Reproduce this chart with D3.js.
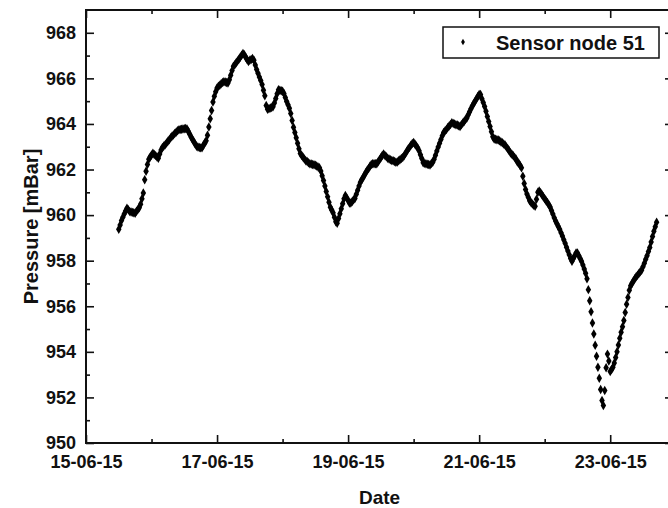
<!DOCTYPE html>
<html>
<head>
<meta charset="utf-8">
<script src="https://cdn.jsdelivr.net/npm/d3@7"></script>
<style>
  body { margin: 0; background: #fff; }
  text { font-family: "Liberation Sans", Arial, sans-serif; font-weight: bold; fill: #111; }
</style>
</head>
<body>
<svg id="chart" width="668" height="508"></svg>
<script>
// pressure readings, one every 30 minutes, starting 15-06-15 12:00
const day15 = [959.38, 959.57, 959.76, 959.91, 960.05, 960.18, 960.30, 960.23, 960.16, 960.14, 960.12, 960.10,
  960.08, 960.17, 960.25, 960.32, 960.48, 960.72, 960.97, 961.55, 961.92, 962.22, 962.45, 962.55];
const day16 = [962.64, 962.71, 962.66, 962.61, 962.55, 962.50, 962.68, 962.86, 962.97, 963.03,
  963.09, 963.16, 963.24, 963.31, 963.39, 963.46, 963.52, 963.58, 963.64, 963.70,
  963.74, 963.76, 963.77, 963.78, 963.79, 963.80, 963.78, 963.67, 963.55, 963.43,
  963.32, 963.22, 963.12, 963.02, 962.99, 962.97, 962.95, 962.96, 963.06, 963.16,
  963.26, 963.50, 963.87, 964.23, 964.59, 964.96, 965.21, 965.41];
const day17 = [965.58, 965.65, 965.70, 965.76, 965.82, 965.85, 965.84, 965.82, 965.80, 965.94,
  966.14, 966.34, 966.53, 966.60, 966.69, 966.76, 966.84, 966.93, 967.01, 967.09,
  967.04, 966.93, 966.83, 966.74, 966.79, 966.83, 966.87, 966.80, 966.59, 966.39,
  966.22, 966.06, 965.91, 965.73, 965.48, 965.24, 964.81, 964.64, 964.67, 964.70,
  964.72, 964.75, 964.92, 965.12, 965.32, 965.50, 965.48, 965.46];
const day18 = [965.43, 965.34, 965.16, 964.99, 964.84, 964.69, 964.46, 964.15, 963.85, 963.62,
  963.39, 963.15, 962.91, 962.70, 962.62, 962.54, 962.46, 962.39, 962.35, 962.30,
  962.25, 962.24, 962.22, 962.21, 962.19, 962.15, 962.11, 962.08, 961.94, 961.73,
  961.52, 961.28, 961.04, 960.80, 960.56, 960.34, 960.22, 960.10, 959.91, 959.71,
  959.64, 959.85, 960.06, 960.28, 960.50, 960.72, 960.86, 960.75];
const day19 = [960.65, 960.53, 960.53, 960.60, 960.67, 960.73, 960.91, 961.09, 961.28, 961.44,
  961.55, 961.65, 961.76, 961.87, 961.97, 962.05, 962.14, 962.22, 962.25, 962.25,
  962.25, 962.25, 962.34, 962.43, 962.52, 962.62, 962.68, 962.62, 962.56, 962.50,
  962.46, 962.43, 962.40, 962.38, 962.35, 962.32, 962.33, 962.38, 962.43, 962.48,
  962.53, 962.60, 962.70, 962.80, 962.90, 962.98, 963.06, 963.14];
const day20 = [963.19, 963.11, 963.03, 962.95, 962.82, 962.65, 962.48, 962.30, 962.27, 962.25,
  962.23, 962.22, 962.20, 962.26, 962.32, 962.45, 962.63, 962.81, 962.99, 963.15,
  963.32, 963.48, 963.62, 963.69, 963.76, 963.84, 963.91, 963.98, 964.05, 964.02,
  964.00, 963.97, 963.95, 963.92, 963.89, 963.96, 964.04, 964.11, 964.19, 964.26,
  964.40, 964.54, 964.67, 964.79, 964.90, 965.00, 965.10, 965.20];
const day21 = [965.29, 965.29, 965.11, 964.94, 964.77, 964.56, 964.33, 964.11, 963.89, 963.66,
  963.44, 963.34, 963.33, 963.31, 963.30, 963.26, 963.21, 963.17, 963.12, 963.08,
  962.99, 962.91, 962.82, 962.73, 962.67, 962.60, 962.53, 962.46, 962.33, 962.28,
  962.18, 962.08, 961.71, 961.39, 961.12, 960.93, 960.78, 960.63, 960.55, 960.49,
  960.43, 960.39, 960.70, 961.00, 961.06, 960.98, 960.89, 960.81];
const day22 = [960.72, 960.63, 960.55, 960.45, 960.36, 960.20, 960.05, 959.88, 959.74, 959.62,
  959.50, 959.38, 959.23, 959.08, 958.92, 958.76, 958.59, 958.43, 958.26, 958.10,
  957.98, 958.10, 958.22, 958.34, 958.34, 958.22, 958.10, 957.98, 957.81, 957.63,
  957.45, 957.21, 956.73, 956.24, 955.76, 955.27, 954.78, 954.29, 953.81, 953.32,
  952.84, 952.35, 951.86, 951.65, 952.30, 953.30, 953.90, 953.60];
const day23 = [953.14, 953.23, 953.32, 953.51, 953.75, 954.00, 954.30, 954.60, 954.86, 955.10,
  955.38, 955.73, 956.09, 956.39, 956.70, 956.90, 957.01, 957.11, 957.21, 957.29,
  957.36, 957.44, 957.51, 957.58, 957.73, 957.89, 958.06, 958.22, 958.40, 958.58,
  958.82, 959.06, 959.29, 959.49, 959.69];

const seriesName = 'Sensor node 51';
const startTime = '2015-06-15 12:00';
const stepMinutes = 30;

const xMajorTicks = ['2015-06-15 00:00', '2015-06-17 00:00', '2015-06-19 00:00', '2015-06-21 00:00', '2015-06-23 00:00'];
const xMinorTicks = ['2015-06-16 00:00', '2015-06-18 00:00', '2015-06-20 00:00', '2015-06-22 00:00'];
const yMajorTicks = [950, 952, 954, 956, 958, 960, 962, 964, 966, 968];
const yMinorTicks = [951, 953, 955, 957, 959, 961, 963, 965, 967];

const parse = d3.utcParse('%Y-%m-%d %H:%M');
const fmt = d3.utcFormat('%d-%m-%y');

let values = [].concat(day15, day16, day17, day18, day19, day20, day21, day22, day23);
let t0 = parse(startTime);
let series = values.map((v, i) => ({ t: d3.utcMinute.offset(t0, i * stepMinutes), v: v }));

let plotLeft = 86, plotRight = 673, plotTop = 10, plotBottom = 443;

let x = d3.scaleUtc()
  .domain([parse('2015-06-15 00:00'), parse('2015-06-23 23:00')])
  .range([plotLeft, plotRight]);
let y = d3.scaleLinear()
  .domain([950, 969])
  .range([plotBottom, plotTop]);

let svg = d3.select('#chart');

function styleAxis(g) {
  g.attr('font-family', null).attr('font-size', null);
  g.select('.domain').remove();
  g.selectAll('line').attr('stroke', '#111').attr('stroke-width', 1.6);
  g.selectAll('text').style('font-size', '18px');
}

// bottom
svg.append('g').attr('transform', `translate(0,${plotBottom})`)
  .call(d3.axisBottom(x).tickValues(xMajorTicks.map(parse)).tickSize(-8).tickPadding(12).tickFormat(fmt))
  .call(styleAxis);
svg.append('g').attr('transform', `translate(0,${plotBottom})`)
  .call(d3.axisBottom(x).tickValues(xMinorTicks.map(parse)).tickSize(-4).tickFormat(''))
  .call(styleAxis);
// top
svg.append('g').attr('transform', `translate(0,${plotTop})`)
  .call(d3.axisTop(x).tickValues(xMajorTicks.map(parse)).tickSize(-8).tickFormat(''))
  .call(styleAxis);
svg.append('g').attr('transform', `translate(0,${plotTop})`)
  .call(d3.axisTop(x).tickValues(xMinorTicks.map(parse)).tickSize(-4).tickFormat(''))
  .call(styleAxis);
// left
svg.append('g').attr('transform', `translate(${plotLeft},0)`)
  .call(d3.axisLeft(y).tickValues(yMajorTicks).tickSize(-8).tickPadding(10).tickFormat(d3.format('d')))
  .call(styleAxis);
svg.append('g').attr('transform', `translate(${plotLeft},0)`)
  .call(d3.axisLeft(y).tickValues(yMinorTicks).tickSize(-4).tickFormat(''))
  .call(styleAxis);
// right
svg.append('g').attr('transform', `translate(${plotRight},0)`)
  .call(d3.axisRight(y).tickValues(yMajorTicks).tickSize(-8).tickFormat(''))
  .call(styleAxis);
svg.append('g').attr('transform', `translate(${plotRight},0)`)
  .call(d3.axisRight(y).tickValues(yMinorTicks).tickSize(-4).tickFormat(''))
  .call(styleAxis);

// frame
svg.append('rect')
  .attr('x', plotLeft).attr('y', plotTop)
  .attr('width', plotRight - plotLeft).attr('height', plotBottom - plotTop)
  .attr('fill', 'none').attr('stroke', '#111').attr('stroke-width', 2);

// points
let diamond = d3.symbol(d3.symbolDiamond, 26);
svg.append('g')
  .selectAll('path')
  .data(series)
  .join('path')
  .attr('transform', d => `translate(${x(d.t)},${y(d.v)})`)
  .attr('d', diamond)
  .attr('fill', '#000');

// legend
let legend = svg.append('g').attr('transform', 'translate(443,27)');
legend.append('rect')
  .attr('width', 216).attr('height', 31)
  .attr('fill', '#fff').attr('stroke', '#111').attr('stroke-width', 1.5);
legend.append('path')
  .attr('transform', 'translate(20,15)')
  .attr('d', d3.symbol(d3.symbolDiamond, 12))
  .attr('fill', '#000');
legend.append('text')
  .attr('x', 53).attr('y', 23)
  .style('font-size', '20px')
  .text(seriesName);

// axis titles
svg.append('text')
  .attr('x', (plotLeft + plotRight) / 2).attr('y', 504)
  .attr('text-anchor', 'middle')
  .style('font-size', '19px')
  .text('Date');
svg.append('text')
  .attr('transform', `translate(38,${(plotTop + plotBottom) / 2}) rotate(-90)`)
  .attr('text-anchor', 'middle')
  .style('font-size', '20px')
  .text('Pressure [mBar]');
</script>
</body>
</html>
